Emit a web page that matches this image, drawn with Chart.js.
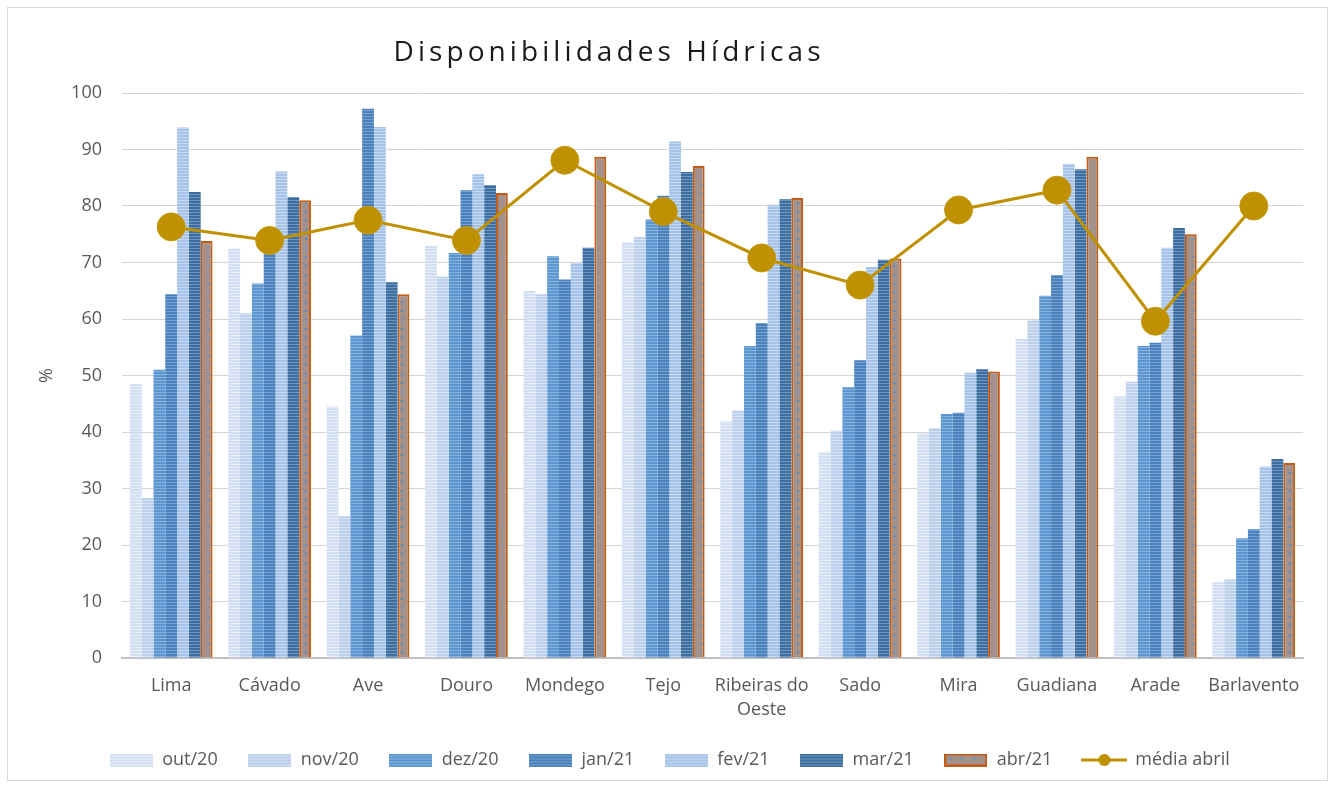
<!DOCTYPE html>
<html><head><meta charset="utf-8">
<script src="https://cdn.jsdelivr.net/npm/chart.js@4.4.1/dist/chart.umd.min.js"></script>
<style>html,body{margin:0;padding:0;background:#fff;overflow:hidden}</style>
</head><body>
<canvas id="c" width="1335" height="787"></canvas>
<script>
const titleText = 'Disponibilidades Hídricas';
const yTitle = '%';
const categories = ['Lima','Cávado','Ave','Douro','Mondego','Tejo',['Ribeiras do','Oeste'],'Sado','Mira','Guadiana','Arade','Barlavento'];
const seriesNames = ['out/20','nov/20','dez/20','jan/21','fev/21','mar/21','abr/21','média abril'];
const out20 = [48.5,72.5,44.5,72.9,65.0,73.6,41.9,36.5,39.8,56.5,46.3,13.4];
const nov20 = [28.3,61.0,25.1,67.5,64.4,74.5,43.8,40.2,40.7,59.8,48.9,13.9];
const dez20 = [51.0,66.3,57.1,71.7,71.1,77.6,55.2,47.9,43.2,64.1,55.2,21.2];
const jan21 = [64.4,72.0,97.2,82.8,67.0,81.8,59.3,52.7,43.4,67.8,55.8,22.8];
const fev21 = [93.9,86.1,94.0,85.6,69.9,91.4,80.2,69.2,50.5,87.5,72.6,33.9];
const mar21 = [82.5,81.6,66.5,83.7,72.6,86.0,81.2,70.5,51.1,86.5,76.1,35.2];
const abr21 = [73.8,81.0,64.4,82.3,88.7,87.1,81.4,70.7,50.7,88.7,75.0,34.5];
const mediaAbril = [76.3,73.9,77.5,73.9,88.1,79.0,70.8,66.0,79.3,82.8,59.6,80.0];
const yMin = 0, yMax = 100, yStep = 10;

const FONT = '"Open Sans", "Noto Sans", sans-serif';
const TXT = '#595959';
const canvas = document.getElementById('c');
const mainCtx = canvas.getContext('2d');

function stripeCanvas(a, b) {
  const c = document.createElement('canvas'); c.width = 4; c.height = 3;
  const x = c.getContext('2d');
  x.fillStyle = a; x.fillRect(0, 0, 4, 3);
  x.fillStyle = b; x.fillRect(0, 2, 4, 1);
  return c;
}
function dotCanvas(bg, dot) {
  const c = document.createElement('canvas'); c.width = 12; c.height = 9;
  const x = c.getContext('2d');
  x.fillStyle = bg; x.fillRect(0, 0, 12, 9);
  x.fillStyle = dot; x.fillRect(5, 4, 2, 2);
  return c;
}
const tiles = [
  stripeCanvas('#d2def1', '#e7eef8'),
  stripeCanvas('#bccfeb', '#d7e3f4'),
  stripeCanvas('#5b96d0', '#87b2de'),
  stripeCanvas('#4a80bb', '#77a2d0'),
  stripeCanvas('#a5c3e8', '#c8daf1'),
  stripeCanvas('#3f6e9e', '#6e97c3'),
  dotCanvas('#a3918c', '#5d8ac0')
];
const fills = tiles.map(t => mainCtx.createPattern(t, 'repeat'));

function legendBox(i) {
  const c = document.createElement('canvas'); c.width = 43; c.height = 13;
  const x = c.getContext('2d');
  x.fillStyle = x.createPattern(tiles[i], 'repeat');
  x.fillRect(0, 0, 43, 13);
  if (i === 6) { x.strokeStyle = '#c55a11'; x.lineWidth = 2; x.strokeRect(1, 1, 41, 11); }
  return c;
}
function legendLine() {
  const c = document.createElement('canvas'); c.width = 46; c.height = 14;
  const x = c.getContext('2d');
  x.strokeStyle = '#bf9000'; x.lineWidth = 3;
  x.beginPath(); x.moveTo(0, 7); x.lineTo(46, 7); x.stroke();
  x.fillStyle = '#bf9000'; x.beginPath(); x.arc(23, 7, 6, 0, Math.PI * 2); x.fill();
  return c;
}
const legendImgs = [0,1,2,3,4,5,6].map(legendBox).concat([legendLine()]);

const barSeries = [out20, nov20, dez20, jan21, fev21, mar21, abr21];
const datasets = barSeries.map((d, i) => ({
  type: 'bar', label: seriesNames[i], data: d,
  backgroundColor: fills[i],
  borderColor: i === 6 ? '#c55a11' : 'transparent',
  borderWidth: i === 6 ? 2 : 0,
  barPercentage: 1.0, categoryPercentage: 0.84, order: 1
}));
datasets.push({
  type: 'line', label: seriesNames[7], data: mediaAbril,
  borderColor: '#bf9000', backgroundColor: '#bf9000', borderWidth: 3,
  pointRadius: 14, pointHoverRadius: 14, pointBackgroundColor: '#bf9000',
  pointBorderColor: '#c49a12', pointBorderWidth: 1, tension: 0, order: 0
});

const bgPlugin = {
  id: 'bg',
  beforeDraw(chart) {
    const ctx = chart.ctx; ctx.save();
    ctx.fillStyle = '#fff'; ctx.fillRect(0, 0, chart.width, chart.height);
    ctx.strokeStyle = '#d9d9d9'; ctx.lineWidth = 1;
    ctx.strokeRect(7.5, 7.5, 1320, 773);
    ctx.restore();
  },
  afterDraw(chart) {
    const ctx = chart.ctx; ctx.save();
    ctx.font = '28px ' + FONT; ctx.fillStyle = '#1a1a1a';
    ctx.textAlign = 'center'; ctx.textBaseline = 'alphabetic';
    ctx.letterSpacing = '0px';
    const w0 = ctx.measureText(titleText).width;
    const sp = (427 - w0) / (titleText.length - 1);
    ctx.letterSpacing = sp.toFixed(2) + 'px';
    ctx.fillText(titleText, 607 + sp / 2, 61);
    ctx.restore();
  }
};

new Chart(mainCtx, {
  data: { labels: categories, datasets },
  plugins: [bgPlugin],
  options: {
    responsive: false, animation: false,
    layout: { padding: { left: 36, right: 32, top: 93, bottom: 8 } },
    plugins: {
      title: { display: false },
      tooltip: { enabled: false },
      legend: {
        position: 'bottom',
        labels: {
          usePointStyle: true, pointStyleWidth: 44, boxHeight: 13,
          padding: 30, color: TXT, font: { family: FONT, size: 18 },
          generateLabels(chart) {
            return chart.data.datasets.map((ds, i) => ({
              text: ds.label, pointStyle: legendImgs[i], datasetIndex: i,
              hidden: !chart.isDatasetVisible(i), fontColor: TXT,
              fillStyle: 'transparent', strokeStyle: 'transparent', lineWidth: 0
            }));
          }
        }
      }
    },
    scales: {
      x: {
        grid: { display: false },
        border: { color: '#bfbfbf', width: 2 },
        ticks: { color: TXT, font: { family: FONT, size: 18, lineHeight: 1.33 }, padding: 8, maxRotation: 0, autoSkip: false },
        afterFit(s) { s.height = 63; }
      },
      y: {
        min: yMin, max: yMax,
        ticks: { stepSize: yStep, padding: 20, color: TXT, font: { family: FONT, size: 18 } },
        grid: { color: '#d4d4d4', lineWidth: 1, drawTicks: false },
        border: { display: false },
        title: { display: true, text: yTitle, color: TXT, font: { family: FONT, size: 18 }, padding: 0 },
        afterFit(s) { s.width = 86; }
      }
    }
  }
});
</script>
</body></html>
